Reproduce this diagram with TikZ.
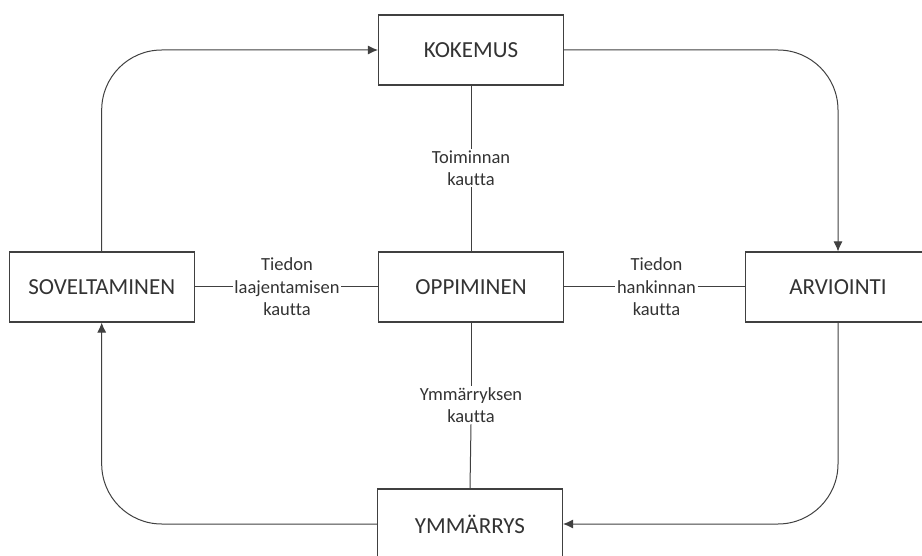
\documentclass[tikz,border=0pt]{standalone}
\usepackage{fontspec}
\setmainfont{Carlito}[Ligatures={NoCommon}]
\usetikzlibrary{arrows.meta}
\definecolor{ink}{HTML}{404040}
\definecolor{txt}{HTML}{333333}
\begin{document}
\begin{tikzpicture}[x=1pt,y=-1pt,
  stage/.style={draw=ink,line width=1.1pt,fill=white,minimum width=185pt,minimum height=70pt,
    inner sep=0pt,text=txt,font=\fontsize{23}{27}\selectfont},
  via/.style={fill=white,text=txt,align=center,inner sep=1.5pt,
    font=\fontsize{18.5}{22.5}\selectfont},
  link/.style={draw=ink,line width=1pt},
  flow/.style={draw=ink,line width=1pt,rounded corners=60pt,-{Latex[length=10pt,width=9pt]}}]
\useasboundingbox (0,0) rectangle (922,556);
\clip (0,0) rectangle (922,556);

\node[stage] (kok) at (471,50) {KOKEMUS};
\node[stage] (opp) at (471,287) {OPPIMINEN};
\node[stage] (sov) at (101.7,287) {SOVELTAMINEN};
\node[stage] (arv) at (838,287) {ARVIOINTI};
\node[stage] (ymm) at (470,524) {YMMÄRRYS};

% labels on the spokes around the centre
\node[via] (lt) at (471,168) {Toiminnan\\kautta};
\node[via] (lb) at (471,405) {Ymmärryksen\\kautta};
\node[via] (ll) at (287,287) {Tiedon\\laajentamisen\\kautta};
\node[via] (lr) at (656.5,287) {Tiedon\\hankinnan\\kautta};

\draw[link] (kok.south) -- (lt.north);
\draw[link] (lt.south) -- (opp.north);
\draw[link] (opp.south) -- (lb.north);
\draw[link] (lb.south) -- (ymm.north);
\draw[link] (sov.east) -- (ll.west);
\draw[link] (ll.east) -- (opp.west);
\draw[link] (opp.east) -- (lr.west);
\draw[link] (lr.east) -- (arv.west);

% outer cycle
\draw[flow] (sov.north) |- (kok.west);
\draw[flow] (kok.east) -| (arv.north);
\draw[flow] (arv.south) |- (ymm.east);
\draw[flow] (ymm.west) -| (sov.south);
\end{tikzpicture}
\end{document}
